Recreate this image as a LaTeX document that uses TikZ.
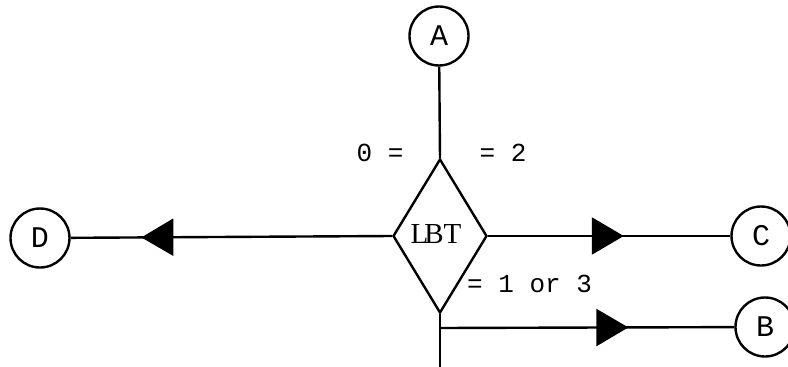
\documentclass[tikz,border=0pt]{standalone}
\usepackage{fontspec}
\setmainfont{Liberation Serif}
\newfontfamily\monof{Liberation Mono}
\usetikzlibrary{shapes.geometric,arrows.meta,decorations.markings}
\begin{document}
\begin{tikzpicture}[x=1pt,y=-1pt,
  line width=2.4pt,
  conn/.style={circle,draw,minimum size=59pt,inner sep=0pt,font=\monof\fontsize{30}{30}\selectfont},
  decide/.style={diamond,draw,inner sep=0pt,aspect=0.61,minimum width=94pt,minimum height=154pt,font=\fontsize{29}{29}\selectfont},
  lbl/.style={font=\monof\fontsize{26}{26}\selectfont,inner sep=0pt},
  midtip/.style={postaction={decorate},decoration={markings,mark=at position #1 with {\arrow{Triangle[length=32pt,width=37pt]}}}}
]
\useasboundingbox (0,0) rectangle (788,367);
\node[conn] (A) at (439,36) {A};
\node[conn] (D) at (40,238) {D};
\node[conn] (C) at (761,236) {C};
\node[conn] (B) at (765,327) {B};
\node[decide] (L) at (440,236) {\raisebox{4pt}{L\kern-4pt BT}\kern8pt};
\coordinate (br) at (440,328);
\coordinate (bot) at (440,367);
\node[lbl] at (380,153) {0 =};
\node[lbl] at (503,153) {= 2};
\node[lbl,anchor=west] at (466,284) {= 1 or 3};
\draw (A) -- (L.north);
\draw[midtip=0.78] (L.west) -- (D);
\draw[midtip=0.56] (L.east) -- (C);
\draw (L.south) -- (bot);
\draw[midtip=0.64] (br) -- (B);
\end{tikzpicture}
\end{document}
